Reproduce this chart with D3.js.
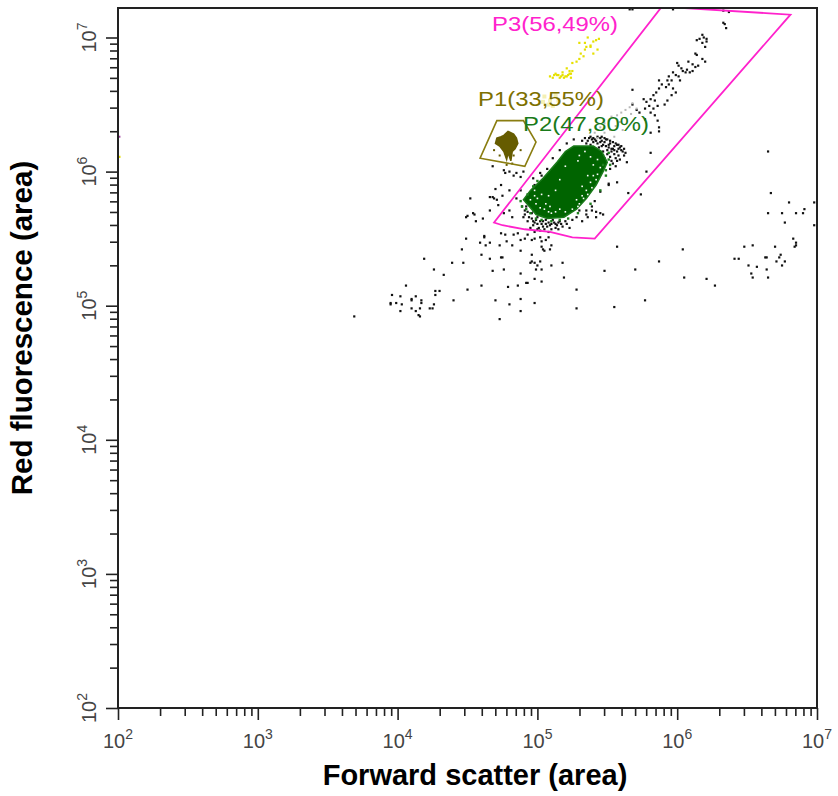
<!DOCTYPE html>
<html><head><meta charset="utf-8">
<script src="https://cdn.jsdelivr.net/npm/d3@7"></script>
<style>body{margin:0;background:#fff}</style>
</head><body><svg id="c" width="838" height="796"></svg>
<script>
// ---- values, all as log10 of [forward scatter, red fluorescence] ----
const decadeExponents = [2, 3, 4, 5, 6, 7];
const xTitle = "Forward scatter (area)";
const yTitle = "Red fluorescence (area)";
const gateNames = ["P1(33,55%)", "P2(47,80%)", "P3(56,49%)"];

const blackEvents = [
 [6.33,7.11],[6.34,7.10],[6.35,7.07],[6.18,7.02],[6.19,7.00],[6.21,6.99],[6.21,6.97],[6.14,6.98],[6.16,6.99],[6.18,6.96],[6.20,6.93],[6.13,6.88],[6.14,6.87],[6.18,6.84],[6.20,6.82],[6.08,6.82],[6.11,6.80],[6.15,6.79],[6.00,6.81],[6.01,6.79],[6.03,6.77],[6.04,6.75],[6.06,6.74],[6.07,6.76],[6.09,6.74],[6.11,6.75],[6.13,6.78],[5.97,6.74],[5.99,6.72],[6.01,6.71],[6.02,6.68],[5.94,6.71],[5.93,6.68],[5.96,6.68],[5.94,6.65],[5.92,6.63],[5.97,6.62],[5.99,6.59],[5.96,6.57],[5.87,6.68],[5.89,6.65],[5.87,6.62],[5.85,6.59],[5.83,6.57],[5.81,6.54],[5.84,6.53],[5.76,6.54],[5.78,6.52],[5.80,6.49],[5.83,6.47],[5.86,6.49],[5.77,6.47],[5.81,6.44],[5.84,6.42],[5.86,6.38],[5.87,6.33],[5.91,6.50],[5.93,6.53],[5.68,6.61],[5.68,6.50],[5.71,6.46],[5.73,6.44],[5.77,6.39],[5.81,6.29],
 [5.66,7.21],[5.68,7.21],[5.97,7.21],[6.33,7.20],[6.37,7.19],
 [6.65,6.15],[6.67,5.84],[6.80,5.77],[6.98,5.77],[6.65,5.69],[6.75,5.69],[6.85,5.69],[6.90,5.69],[6.91,5.72],[6.77,5.62],[6.98,5.60],[6.83,5.50],[6.85,5.47],[6.85,5.45],[6.84,5.44],[6.70,5.44],[6.48,5.44],[6.54,5.45],[6.41,5.35],[6.44,5.35],[6.63,5.36],[6.64,5.36],[6.74,5.38],[6.73,5.36],[6.71,5.33],[6.77,5.33],[6.75,5.30],[6.51,5.30],[6.57,5.29],[6.64,5.27],[6.53,5.24],[6.54,5.21],[6.65,5.21],[6.04,5.42],[5.87,5.33],[5.70,5.27],[6.05,5.21],[6.21,5.20],[6.27,5.15],[5.77,5.04],[5.55,4.99],[5.48,5.26],[5.57,5.44],[5.81,6.14],[5.78,6.00],[5.65,5.84],[5.74,5.83],[5.57,5.92],[5.51,5.90],[5.47,5.68],[5.87,6.30],
 [4.52,5.80],[4.70,5.87],[4.74,5.90],[4.66,5.81],[4.69,5.80],[4.49,5.66],[4.55,5.68],[4.56,5.63],[4.49,5.50],[4.46,5.42],[4.19,5.35],[4.26,5.27],[4.33,5.23],[4.39,5.32],[4.47,5.32],[4.59,5.47],[4.63,5.45],[4.66,5.47],[4.62,5.52],[4.62,5.51],[4.60,5.38],[4.66,5.35],[4.74,5.36],[4.75,5.36],[4.68,5.26],[4.76,5.27],[4.73,5.45],[4.78,5.48],[4.74,5.54],[4.77,5.53],[4.82,5.45],[4.88,5.41],[4.88,5.49],[4.83,5.53],[4.86,5.54],[4.91,5.50],[4.93,5.53],[4.96,5.49],[4.98,5.50],[5.02,5.51],[5.03,5.48],[5.06,5.49],[5.08,5.51],[5.03,5.44],[5.04,5.42],[5.05,5.41],[5.10,5.45],[5.09,5.42],[4.96,5.38],[4.96,5.33],[4.98,5.32],[4.95,5.32],[5.02,5.33],[5.00,5.30],[4.99,5.27],[5.03,5.27],[5.10,5.30],[5.18,5.32],[4.98,5.20],[5.03,5.18],[5.19,5.21],[4.88,5.24],[4.79,5.14],[4.86,5.15],[4.92,5.17],[4.93,5.17],[4.60,5.15],[4.50,5.12],[4.40,5.04],[4.70,5.04],[4.80,5.01],[4.88,5.05],[4.98,5.02],[4.88,4.96],[4.73,4.90],
 [4.06,5.15],[3.96,5.08],[4.02,5.07],[3.95,5.02],[3.95,5.01],[3.99,5.02],[4.03,5.01],[4.10,5.05],[4.10,5.04],[4.13,5.07],[4.17,5.04],[4.17,5.02],[4.27,5.11],[4.30,5.11],[4.27,5.08],[4.26,5.01],[4.23,4.98],[4.25,4.98],[4.10,4.98],[4.13,4.96],[4.16,4.98],[4.02,4.96],[4.15,4.93],[4.16,4.92],[3.69,4.92],[5.28,5.12],[5.28,4.98],
 [4.76,5.69],[4.80,5.71],[4.82,5.66],[5.30,5.71],[5.35,5.71],[5.36,5.66],[5.42,5.66],[5.45,5.69],[5.39,5.74],
 [4.89,5.74],[4.91,5.71],[4.90,5.66],[4.93,5.63],[4.97,5.60],[4.99,5.64],[5.03,5.61],[5.07,5.59],[5.10,5.61],[5.14,5.60],[5.16,5.63],[5.21,5.61],[5.25,5.64],[5.28,5.66],[5.32,5.63],[5.35,5.68],[5.39,5.71],[4.95,5.58],[5.02,5.56],[4.96,5.69],[4.92,5.78],[4.85,5.80],[4.88,5.86],[4.98,5.90],[5.03,5.97],[5.07,6.02],[5.11,6.10],[5.16,6.16],[5.21,6.21],[5.26,6.24],[5.34,6.25],[5.38,6.26],[5.41,6.24],[5.45,6.25],[5.48,6.22],[5.52,6.21],[5.54,6.17],[5.57,6.20],[5.50,6.16],[5.47,6.12],[5.52,6.11],[5.56,6.04],[5.52,6.02],[5.51,5.91],[5.45,5.85],[5.41,5.78],[5.42,5.70],[5.58,6.12],[5.61,6.15],[5.64,6.07],[5.38,6.20],[5.42,6.17],[5.46,6.19],[5.35,6.21],[5.32,6.23],[5.39,6.16],
 [5.36,6.23],[5.40,6.22],[5.43,6.21],[5.44,6.18],[5.47,6.15],[5.49,6.19],[5.50,6.13],[5.53,6.15],[5.55,6.13],[5.40,6.25],[5.43,6.26],[5.46,6.23],[5.49,6.24],[5.51,6.18],[5.55,6.19],[5.58,6.17],[5.60,6.19],[5.44,6.14],[5.48,6.10],[5.53,6.08],
 [5.46,6.26],[5.48,6.25],[5.50,6.24],[5.52,6.23],[5.54,6.22],[5.56,6.21],[5.58,6.20],[5.59,6.18],[5.60,6.16],[5.62,6.17],[5.57,6.15],[5.55,6.16],[5.53,6.17],[5.51,6.20],[5.47,6.20],[5.45,6.22],[5.42,6.23],[5.39,6.24],[5.37,6.25],[5.56,6.10],[5.59,6.09],[5.62,6.12],[5.63,6.14],[5.54,6.06],[5.57,6.08],
 [4.94,5.66],[4.97,5.63],[5.00,5.61],[5.04,5.63],[5.06,5.61],[5.09,5.60],[5.12,5.62],[5.01,5.58],[5.05,5.57],[4.98,5.55],[5.13,5.58],[5.18,5.59],[5.23,5.58],[5.08,5.55],
 [4.91,5.68],[4.93,5.70],[4.96,5.65],[4.98,5.62],[5.00,5.66],[5.02,5.63],[5.04,5.59],[5.06,5.64],[5.08,5.62],[5.11,5.64],[5.13,5.61],[5.15,5.62],[5.17,5.61],[5.20,5.63],[5.02,5.68],[4.97,5.71],[4.92,5.74],[5.00,5.57],[5.10,5.57],[5.15,5.57],
 [4.68,6.04],[4.76,6.01],[4.77,5.99],[4.80,6.00],[4.83,5.97],[4.85,5.99],[4.88,5.96],[4.90,6.00],
 [4.50,5.67],[4.54,5.69],[4.61,5.65],[4.66,5.71],[4.71,5.79],[4.72,5.75],[4.68,5.81],[4.75,5.82],[4.80,5.86],[4.97,5.95],[5.02,5.99],[5.04,5.93]
];
const grayEvents = [
 [5.41,6.29],[5.45,6.33],[5.48,6.36],[5.51,6.38],[5.53,6.41],[5.57,6.42],[5.60,6.44],[5.63,6.46],[5.66,6.48],[5.68,6.51],[5.48,6.29],[5.52,6.31],[5.56,6.34],[5.59,6.37],[5.63,6.40],[5.67,6.43],[5.71,6.47],[5.43,6.25],[5.55,6.26],[5.61,6.31]
];
const paleYellowEvents = [
 [5.05,6.56],[5.09,6.53],[5.13,6.57],[5.08,6.50],[5.11,6.49],[5.15,6.53],[5.04,6.52]
];
const yellowEvents = [
 [5.09,6.71],[5.11,6.70],[5.14,6.72],[5.16,6.70],[5.18,6.72],[5.21,6.71],[5.23,6.73],[5.24,6.70],[5.23,6.75],[5.21,6.77],[5.25,6.81],[5.28,6.82],[5.30,6.84],[5.33,6.86],[5.31,6.88],[5.34,6.91],[5.35,6.93],[5.38,6.94],[5.34,6.96],[5.40,6.97],[5.42,6.98],[5.44,6.99],[5.36,7.00],[5.40,6.88],[5.30,6.96],[5.38,6.93],[5.43,6.91],[5.25,6.75],[5.13,6.73],[5.20,6.71],[5.15,6.72],[5.18,6.74],[5.12,6.72],[5.22,6.72],[5.19,6.70],[5.17,6.71],[5.24,6.73],
 [2.01,6.11]
];
const purpleEvents = [[2.01,6.26]];
const p2Core = [
 [5.26,6.19],[5.40,6.19],[5.46,6.15],[5.50,6.07],[5.47,6.00],[5.42,5.90],[5.35,5.80],[5.28,5.72],[5.19,5.66],[5.07,5.65],[4.99,5.68],[4.95,5.73],[4.90,5.79],[4.95,5.86],[5.04,5.95],[5.14,6.07],[5.20,6.15]
];
const p2Edge = [
 [4.88,5.78],[4.89,5.74],[4.92,5.72],[4.95,5.69],[4.99,5.65],[5.03,5.64],[5.10,5.63],[5.16,5.64],[5.22,5.65],[5.29,5.69],[5.38,5.76],[5.45,5.86],[5.49,5.97],[5.52,6.05],[5.51,6.14],[4.93,5.83],[4.97,5.89],[5.00,5.93],[5.47,6.05],[5.49,6.01],[5.51,6.09]
];
const p2Gaps = [
 [4.95,5.79],[4.98,5.82],[4.99,5.76],[5.02,5.73],[5.00,5.80],[5.05,5.72],[5.08,5.70],[5.10,5.69],[5.06,5.76],[5.03,5.83],[5.09,5.74],[5.13,5.70],[5.16,5.72],[4.98,5.86],[5.30,5.76],[5.33,5.80],[5.36,5.83],[5.39,5.88],[5.42,5.94],[5.38,5.92],[5.35,5.86],[5.32,5.82],[5.45,6.03],[5.43,5.98],[5.40,5.97],[5.29,5.74],[5.25,5.72],[5.20,5.70],[5.28,5.79],[5.32,5.89],[5.36,5.97],[5.43,6.09],[5.40,6.05],[5.34,6.15],[5.30,6.12],[5.29,6.08],[5.38,6.11],[5.20,6.04],[5.16,5.94],[5.13,5.86],[5.08,5.82]
];
const p1Core = [
 [4.76,6.27],[4.79,6.30],[4.83,6.28],[4.85,6.25],[4.86,6.21],[4.84,6.17],[4.82,6.15],[4.81,6.08],[4.79,6.14],[4.78,6.09],[4.76,6.15],[4.73,6.19],[4.70,6.21],[4.71,6.25],[4.74,6.26]
];
const p1Events = [[4.69,6.16],[4.88,6.16],[4.83,6.12],[4.73,6.12],[4.82,6.06],[4.78,6.05]];
const gateP1 = [[4.71,6.38],[4.90,6.38],[4.99,6.22],[4.91,6.04],[4.59,6.10]];
const gateP3 = [[4.69,5.62],[5.89,7.23],[6.66,7.18],[6.81,7.17],[5.41,5.50],[5.25,5.51],[5.09,5.55],[4.91,5.57],[4.75,5.60]];

// ---- layout ----
const L = 118, R = 817, T = 8, B = 708;
const svg = d3.select("#c");
const x = d3.scaleLog().domain([1e2, 1e7]).range([L, R]);
const y = d3.scaleLog().domain([1e2, Math.pow(10, 7.22)]).range([B, T]);
const px = d => x(Math.pow(10, d[0]));
const py = d => y(Math.pow(10, d[1]));

svg.append("defs").append("clipPath").attr("id", "clip")
  .append("rect").attr("x", L).attr("y", T).attr("width", R - L).attr("height", B - T);
const plot = svg.append("g").attr("clip-path", "url(#clip)");

function dots(data, color, s) {
  plot.append("g").selectAll("rect").data(data).join("rect")
    .attr("x", d => px(d) - s / 2).attr("y", d => py(d) - s / 2)
    .attr("width", s).attr("height", s).attr("fill", color);
}
const line = d3.line().x(px).y(py);

dots(blackEvents, "#111", 2.2);
dots(grayEvents, "#b8b8b8", 2);
dots(paleYellowEvents, "#f4f0b4", 4);
dots(yellowEvents, "#e6e000", 2.2);
dots(purpleEvents, "#a040a0", 2);
plot.append("path").attr("d", line(p2Core) + "Z").attr("fill", "#006400").attr("stroke", "#1a7a1a").attr("stroke-width", 1.5);
dots(p2Edge, "#1f7f1f", 2.4);
dots(p2Gaps, "#ffffff", 1.6);
plot.append("path").attr("d", line(p1Core) + "Z").attr("fill", "#665c00").attr("stroke", "#665c00").attr("stroke-width", 1.5);
dots(p1Events, "#665c00", 2);
plot.append("path").attr("d", line(gateP1) + "Z").attr("fill", "none").attr("stroke", "#8a7d10").attr("stroke-width", 1.6);
plot.append("path").attr("d", line(gateP3) + "Z").attr("fill", "none").attr("stroke", "#ff22cc").attr("stroke-width", 1.8);

// frame
svg.append("rect").attr("x", L).attr("y", T).attr("width", R - L).attr("height", B - T)
  .attr("fill", "none").attr("stroke", "#222").attr("stroke-width", 2);

// ticks
const majors = decadeExponents.map(e => Math.pow(10, e));
const minors = [];
for (let e = 2; e < 7; e++) for (let m = 2; m <= 9; m++) minors.push(m * Math.pow(10, e));
const axX = svg.append("g").attr("transform", `translate(0,${B})`);
axX.call(d3.axisBottom(x).tickValues(minors).tickSize(8).tickFormat(""));
axX.call(g => g.append("g").call(d3.axisBottom(x).tickValues(majors).tickSize(12).tickFormat("")));
const axY = svg.append("g").attr("transform", `translate(${L},0)`);
axY.call(d3.axisLeft(y).tickValues(minors).tickSize(8).tickFormat(""));
axY.call(g => g.append("g").call(d3.axisLeft(y).tickValues(majors).tickSize(12).tickFormat("")));
svg.selectAll(".domain").remove();
svg.selectAll(".tick line").attr("stroke", "#222").attr("stroke-width", 1.6);

const FONT = "'Liberation Sans', Arial, sans-serif";
decadeExponents.forEach(e => {
  const t = svg.append("text").attr("x", x(Math.pow(10, e))).attr("y", 748)
    .attr("text-anchor", "middle").attr("font-family", FONT).attr("font-size", 20).attr("fill", "#444");
  t.append("tspan").text("10");
  t.append("tspan").attr("dy", -9).attr("font-size", 14).text(e);
  const u = svg.append("text").attr("transform", `translate(96,${y(Math.pow(10, e))}) rotate(-90)`)
    .attr("text-anchor", "middle").attr("font-family", FONT).attr("font-size", 20).attr("fill", "#444");
  u.append("tspan").text("10");
  u.append("tspan").attr("dy", -9).attr("font-size", 14).text(e);
});

svg.append("text").attr("x", 475).attr("y", 785).attr("text-anchor", "middle")
  .attr("font-family", FONT).attr("font-weight", "bold").attr("font-size", 29).attr("fill", "#000").text(xTitle);
svg.append("text").attr("transform", `translate(32,328) rotate(-90)`).attr("text-anchor", "middle")
  .attr("font-family", FONT).attr("font-weight", "bold").attr("font-size", 29.5).attr("fill", "#000").text(yTitle);

// gate labels
const labelStyle = [
  {x: 478, y: 106, c: "#7d7000"},
  {x: 523, y: 131, c: "#1a7a1a"},
  {x: 492, y: 31, c: "#ff22cc"}
];
gateNames.forEach((n, i) => {
  svg.append("text").attr("x", labelStyle[i].x).attr("y", labelStyle[i].y)
    .attr("font-family", FONT).attr("font-size", 21).attr("fill", labelStyle[i].c)
    .attr("textLength", 126).attr("lengthAdjust", "spacingAndGlyphs").text(n);
});
</script></body></html>
